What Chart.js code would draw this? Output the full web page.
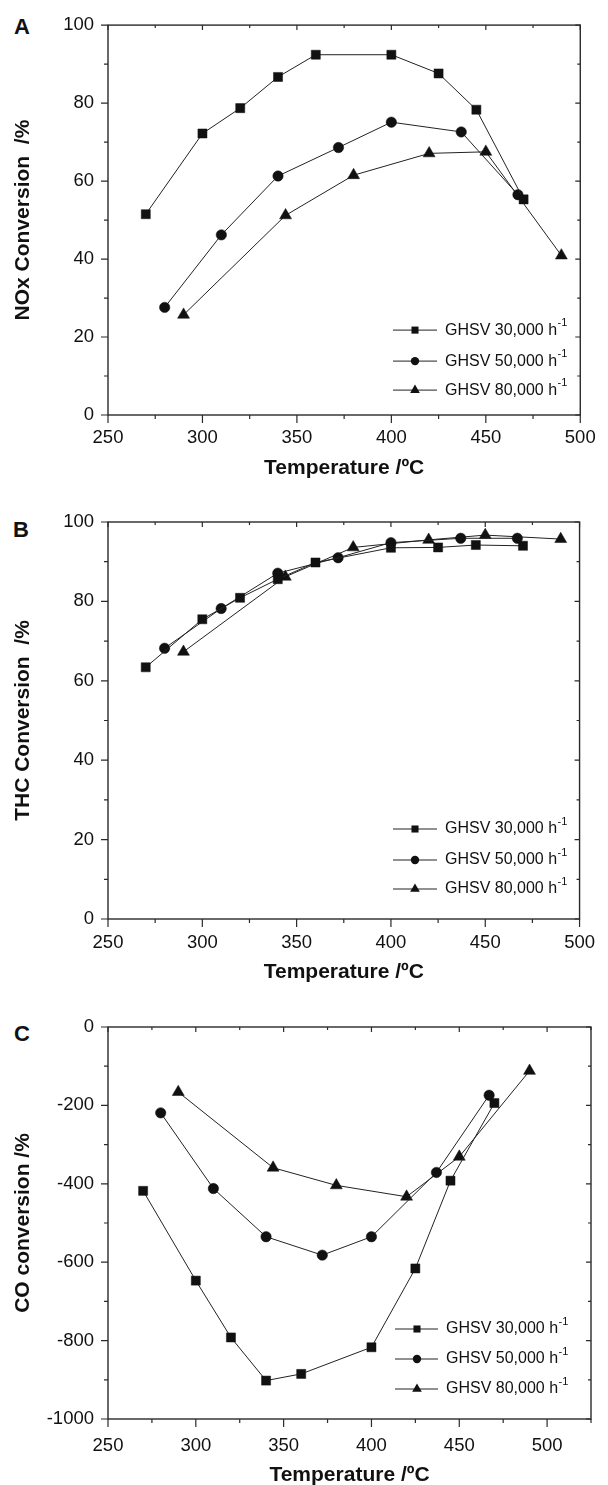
<!DOCTYPE html>
<html>
<head>
<meta charset="utf-8">
<script src="https://cdn.jsdelivr.net/npm/chart.js@4.4.1/dist/chart.umd.min.js"></script>
<style>
  html, body { margin: 0; padding: 0; background: #fff; width: 608px; height: 1485px; overflow: hidden; }
  canvas { position: absolute; left: 0; }
  .lbl { position: absolute; font: bold 22px 'Liberation Sans', Arial, sans-serif; line-height: 1; color: #111; }
</style>
</head>
<body>
<div class="lbl" style="left:14px; top:16px;">A</div>
<div class="lbl" style="left:13px; top:519px;">B</div>
<div class="lbl" style="left:14px; top:1023px;">C</div>
<canvas id="cA" width="608" height="495" style="top:0px"></canvas>
<canvas id="cB" width="608" height="505" style="top:495px"></canvas>
<canvas id="cC" width="608" height="500" style="top:1000px"></canvas>
<script>
// ---------- data ----------
const temps30 = [270, 300, 320, 340, 360, 400, 425, 445, 470];
const temps50 = [280, 310, 340, 372, 400, 437, 467];
const temps80 = [290, 344, 380, 420, 450, 490];

const nox30 = [51.5, 72.2, 78.7, 86.7, 92.4, 92.4, 87.6, 78.3, 55.3];
const nox50 = [27.6, 46.2, 61.3, 68.6, 75.1, 72.6, 56.5];
const nox80 = [25.7, 51.2, 61.5, 67.1, 67.5, 40.9];

const thc30 = [63.4, 75.5, 80.9, 85.6, 89.8, 93.5, 93.6, 94.2, 94.0];
const thc50 = [68.2, 78.2, 87.1, 91.0, 94.8, 95.9, 95.9];
const thc80 = [67.3, 86.2, 93.6, 95.5, 96.7, 95.7];

const co30 = [-418, -647, -792, -902, -885, -817, -616, -392, -194];
const co50 = [-219, -412, -535, -582, -535, -371, -174];
const co80 = [-166, -359, -404, -433, -331, -112];

const xTickLabels = [250, 300, 350, 400, 450, 500];
const yTickLabelsPct = [0, 20, 40, 60, 80, 100];
const yTickLabelsCO = [-1000, -800, -600, -400, -200, 0];

const seriesLabels = ['GHSV 30,000 h', 'GHSV 50,000 h', 'GHSV 80,000 h'];
const seriesSup = '-1';
const xTitle = 'Temperature /ºC';
const yTitles = ['NOx Conversion  /%', 'THC Conversion  /%', 'CO conversion /%'];

// ---------- drawing ----------
const FONT = "'Liberation Sans', Arial, sans-serif";
Chart.defaults.font.family = FONT;
Chart.defaults.color = '#111';

const styles = ['rect', 'circle', 'triangle'];
const radii = [6.4, 5.2, 6.9];
const legR = [5, 4.2, 5.6];

function pts(xs, ys) { return xs.map((x, i) => ({ x: x, y: ys[i] })); }

function marker(ctx, style, x, y, r) {
  ctx.beginPath();
  if (style === 'rect') {
    const s = r * Math.SQRT1_2;
    ctx.rect(x - s, y - s, 2 * s, 2 * s);
  } else if (style === 'circle') {
    ctx.arc(x, y, r, 0, Math.PI * 2);
  } else {
    let a = 0;
    ctx.moveTo(x + Math.sin(a) * r, y - Math.cos(a) * r);
    a += 2 * Math.PI / 3;
    ctx.lineTo(x + Math.sin(a) * r, y - Math.cos(a) * r);
    a += 2 * Math.PI / 3;
    ctx.lineTo(x + Math.sin(a) * r, y - Math.cos(a) * r);
    ctx.closePath();
  }
  ctx.fill();
}

const framePlugin = {
  id: 'frame',
  beforeDatasetsDraw(chart, args, o) {
    const { ctx, chartArea: a, scales: { x, y } } = chart;
    ctx.save();
    ctx.strokeStyle = '#2a2a2a';
    ctx.lineWidth = 1.4;
    ctx.strokeRect(a.left, a.top, a.right - a.left, a.bottom - a.top);
    ctx.lineWidth = 1.2;
    ctx.beginPath();
    const nx = Math.round((x.max - x.min) / o.xMinor);
    for (let i = 0; i <= nx; i++) {
      const v = x.min + i * o.xMinor;
      const px = x.getPixelForValue(v);
      const major = Math.abs(v % o.xMajor) < 1e-6;
      ctx.moveTo(px, a.bottom); ctx.lineTo(px, a.bottom + (major ? 8 : 4));
      ctx.moveTo(px, a.top); ctx.lineTo(px, a.top + (major ? 5 : 3));
    }
    const ny = Math.round((y.max - y.min) / o.yMinor);
    for (let i = 0; i <= ny; i++) {
      const v = y.min + i * o.yMinor;
      const py = y.getPixelForValue(v);
      const major = Math.abs(v % o.yMajor) < 1e-6;
      ctx.moveTo(a.left, py); ctx.lineTo(a.left - (major ? 7 : 4), py);
      ctx.moveTo(a.right, py); ctx.lineTo(a.right - (major ? 5 : 3), py);
    }
    ctx.stroke();
    ctx.restore();
  },
  afterDatasetsDraw(chart, args, o) {
    const { ctx, chartArea: a } = chart;
    ctx.save();
    chart.data.datasets.forEach((ds, i) => {
      const yy = a.top + o.rows[i];
      ctx.strokeStyle = '#222';
      ctx.fillStyle = '#111';
      ctx.lineWidth = 1;
      ctx.beginPath();
      ctx.moveTo(a.left + o.lineX[0], yy);
      ctx.lineTo(a.left + o.lineX[1], yy);
      ctx.stroke();
      marker(ctx, styles[i], a.left + o.markX, yy, legR[i]);
      ctx.textBaseline = 'middle';
      ctx.textAlign = 'left';
      ctx.font = '16px ' + FONT;
      const tx = a.left + o.textX;
      ctx.fillText(seriesLabels[i], tx, yy);
      const w = ctx.measureText(seriesLabels[i]).width;
      ctx.font = '11px ' + FONT;
      ctx.fillText(seriesSup, tx + w + 0.5, yy - 7);
    });
    ctx.restore();
  }
};

function makeChart(id, ys, cfg) {
  const datasets = [temps30, temps50, temps80].map((xs, i) => ({
    label: seriesLabels[i],
    data: pts(xs, ys[i]),
    showLine: true,
    borderColor: '#222',
    borderWidth: 1,
    pointStyle: styles[i],
    pointRadius: radii[i],
    pointBackgroundColor: '#111',
    pointBorderColor: '#111',
    pointBorderWidth: 0.5,
    tension: 0
  }));
  return new Chart(document.getElementById(id), {
    type: 'scatter',
    data: { datasets },
    plugins: [framePlugin],
    options: {
      responsive: false,
      animation: false,
      devicePixelRatio: 1,
      events: [],
      layout: { padding: { top: cfg.padTop, right: 17, left: 0, bottom: 0 } },
      plugins: {
        legend: { display: false },
        tooltip: { enabled: false },
        frame: cfg.frame
      },
      scales: {
        x: {
          type: 'linear',
          min: 250, max: cfg.xMax,
          afterFit: s => { s.height = cfg.xH; },
          afterBuildTicks: s => { s.ticks = xTickLabels.map(v => ({ value: v })); },
          ticks: { padding: cfg.xPad, color: '#111', font: { size: 18.5 }, maxRotation: 0, autoSkip: false, callback: v => String(v) },
          grid: { display: false, drawTicks: false },
          border: { display: false },
          title: { display: true, text: xTitle, color: '#111', font: { size: 21, weight: 'bold' }, padding: { top: 0, bottom: cfg.xTitlePad } }
        },
        y: {
          type: 'linear',
          min: cfg.yMin, max: cfg.yMax,
          afterFit: s => { s.width = 108; },
          afterBuildTicks: s => { s.ticks = cfg.yTicks.map(v => ({ value: v })); },
          ticks: { padding: 14, color: '#111', font: { size: 18.5 }, autoSkip: false, callback: v => String(v) },
          grid: { display: false, drawTicks: false },
          border: { display: false },
          title: { display: true, text: cfg.yTitle, color: '#111', font: { size: 21, weight: 'bold' }, padding: { top: 10.4, bottom: 0 } }
        }
      }
    }
  });
}

makeChart('cA', [nox30, nox50, nox80], {
  padTop: 20, xH: 80, xPad: 12.3, xTitlePad: 14.4, xMax: 500,
  yMin: 0, yMax: 100, yTicks: yTickLabelsPct, yTitle: yTitles[0],
  frame: { xMinor: 25, xMajor: 50, yMinor: 10, yMajor: 20, rows: [305, 336, 365], lineX: [285, 329], markX: 307, textX: 337 }
});
makeChart('cB', [thc30, thc50, thc80], {
  padTop: 27, xH: 81, xPad: 13, xTitlePad: 14.9, xMax: 500,
  yMin: 0, yMax: 100, yTicks: yTickLabelsPct, yTitle: yTitles[1],
  frame: { xMinor: 25, xMajor: 50, yMinor: 10, yMajor: 20, rows: [307, 338, 367], lineX: [285, 329], markX: 307, textX: 337 }
});
makeChart('cC', [co30, co50, co80], {
  padTop: 27, xH: 81, xPad: 15.4, xTitlePad: 11.9, xMax: 525,
  yMin: -1000, yMax: 0, yTicks: yTickLabelsCO, yTitle: yTitles[2],
  frame: { xMinor: 25, xMajor: 50, yMinor: 100, yMajor: 200, rows: [302, 332, 362], lineX: [287, 330], markX: 309, textX: 338 }
});
</script>
</body>
</html>
